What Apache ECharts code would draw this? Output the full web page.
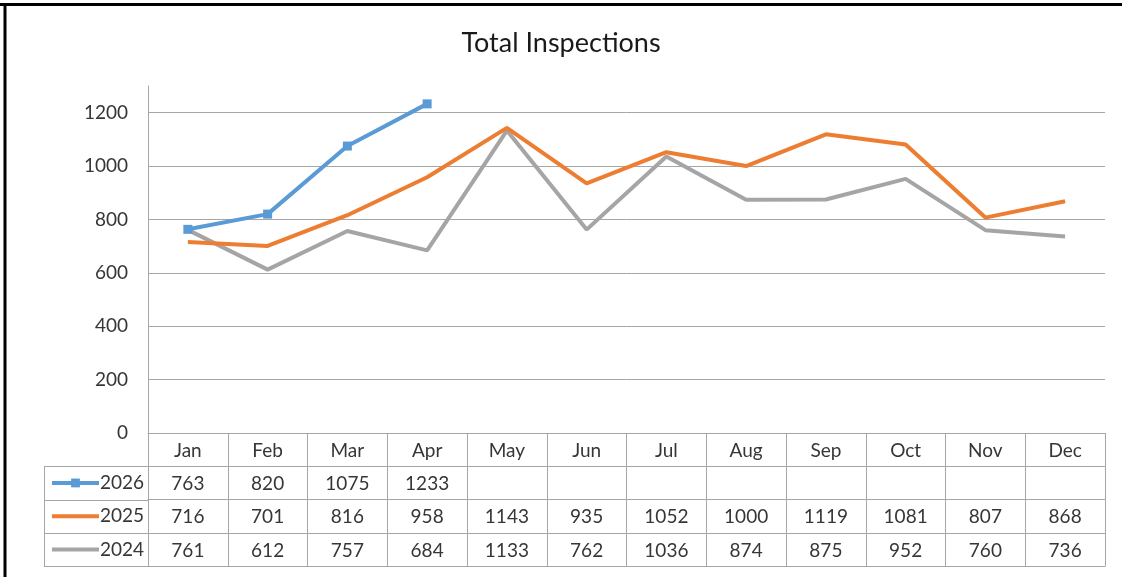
<!DOCTYPE html>
<html>
    <head>
        <meta charset="UTF-8" />
        <script src="https://cdn.jsdelivr.net/npm/echarts@6/dist/echarts.min.js"></script>
        <style>
            html, body { margin: 0; padding: 0; background: #fff; }
        </style>
    </head>
    <body>
        <div id="container" style="width: 1122px; height: 577px;"></div>
        <script>
            // chart data
            var months = ['Jan', 'Feb', 'Mar', 'Apr', 'May', 'Jun', 'Jul', 'Aug', 'Sep', 'Oct', 'Nov', 'Dec'];
            var years = ['2026', '2025', '2024'];
            var data2026 = [763, 820, 1075, 1233, null, null, null, null, null, null, null, null];
            var data2025 = [716, 701, 816, 958, 1143, 935, 1052, 1000, 1119, 1081, 807, 868];
            var data2024 = [761, 612, 757, 684, 1133, 762, 1036, 874, 875, 952, 760, 736];
            var yTicks = { min: 0, max: 1300, interval: 200 };

            var colors = { '2026': '#5B9BD5', '2025': '#ED7D31', '2024': '#A5A5A5' };
            var rows = { '2026': data2026, '2025': data2025, '2024': data2024 };

            var fontFamily = 'Lato';
            var textColor = '#363636';
            var gridColor = '#A6A6A6';
            var rowH = 33.3;

            // one extra category axis per table row, the labels are the row values
            function tableAxis(values, offset) {
                return {
                    type: 'category',
                    gridIndex: 0,
                    position: 'bottom',
                    offset: offset,
                    data: months,
                    boundaryGap: true,
                    axisLine: { show: true, lineStyle: { color: gridColor, width: 1 } },
                    axisTick: { show: !!values, interval: 0, length: rowH, lineStyle: { color: gridColor } },
                    axisLabel: {
                        show: !!values,
                        interval: 0,
                        margin: 8,
                        fontFamily: fontFamily,
                        fontSize: 19,
                        color: textColor,
                        formatter: function (v, i) {
                            var n = values ? values[i] : null;
                            return n == null ? '' : String(n);
                        }
                    },
                    splitLine: { show: false }
                };
            }

            var chart = echarts.init(document.getElementById('container'));

            var seriesList = ['2024', '2025', '2026'].map(function (y) {
                return {
                    name: y,
                    type: 'line',
                    data: rows[y],
                    xAxisIndex: 0,
                    yAxisIndex: 0,
                    symbol: y === '2026' ? 'rect' : 'none',
                    symbolSize: 9,
                    showSymbol: y === '2026',
                    lineStyle: { width: 4, color: colors[y] },
                    itemStyle: { color: colors[y] },
                    connectNulls: false,
                    animation: false
                };
            });

            var plotLeft = 148, plotRight = 1105, plotTop = 86, plotBottom = 433;
            var tableLines = [];
            for (var k = 1; k <= 4; k++) {
                var yy = Math.round(plotBottom + k * rowH) + 0.5;
                tableLines.push({
                    type: 'line',
                    shape: { x1: 44, y1: yy, x2: plotLeft, y2: yy },
                    style: { stroke: gridColor, lineWidth: 1 }
                });
            }
            tableLines.push({
                type: 'line',
                shape: { x1: 44.5, y1: Math.round(plotBottom + rowH) + 0.5, x2: 44.5, y2: Math.round(plotBottom + 4 * rowH) + 0.5 },
                style: { stroke: gridColor, lineWidth: 1 }
            });
            // outer frame (top and left edges)
            tableLines.push({
                type: 'line',
                shape: { x1: 0, y1: 4.5, x2: 1122, y2: 4.5 },
                style: { stroke: '#000', lineWidth: 3 }
            });
            tableLines.push({
                type: 'line',
                shape: { x1: 5, y1: 3, x2: 5, y2: 577 },
                style: { stroke: '#000', lineWidth: 3 }
            });

            var option = {
                backgroundColor: '#fff',
                animation: false,
                title: {
                    text: 'Total Inspections',
                    left: 'center',
                    top: 25,
                    textStyle: { fontFamily: fontFamily, fontSize: 27, fontWeight: 'normal', color: '#1a1a1a' }
                },
                legend: {
                    data: [
                        { name: '2026' },
                        { name: '2025', itemStyle: { opacity: 0 } },
                        { name: '2024', itemStyle: { opacity: 0 } }
                    ],
                    orient: 'vertical',
                    left: 50,
                    top: plotBottom + rowH * 1.5 - 10,
                    padding: 0,
                    itemWidth: 47,
                    itemHeight: 11,
                    itemGap: rowH - 20,
                    lineStyle: { width: 4 },
                    textStyle: { fontFamily: fontFamily, fontSize: 19, color: textColor, lineHeight: 20, padding: [0, 0, 0, -4] },
                    selectedMode: false
                },
                grid: {
                    left: plotLeft, top: plotTop,
                    width: plotRight - plotLeft, height: plotBottom - plotTop,
                    containLabel: false, outerBoundsMode: 'none'
                },
                xAxis: [
                    {
                        type: 'category',
                        data: months,
                        boundaryGap: true,
                        position: 'bottom',
                        axisLine: { show: true, lineStyle: { color: gridColor, width: 1 } },
                        axisTick: { show: true, interval: 0, length: rowH, lineStyle: { color: gridColor } },
                        axisLabel: { interval: 0, margin: 8, fontFamily: fontFamily, fontSize: 19, color: textColor },
                        splitLine: { show: false }
                    },
                    tableAxis(data2026, rowH),
                    tableAxis(data2025, rowH * 2),
                    tableAxis(data2024, rowH * 3),
                    tableAxis(null, rowH * 4)
                ],
                yAxis: {
                    type: 'value',
                    min: yTicks.min,
                    max: yTicks.max,
                    interval: yTicks.interval,
                    axisLine: { show: true, lineStyle: { color: gridColor, width: 1 } },
                    axisTick: { show: false },
                    axisLabel: {
                        margin: 20, fontFamily: fontFamily, fontSize: 19, color: textColor, showMaxLabel: false,
                        formatter: function (v) { return String(v); }
                    },
                    splitLine: { show: true, showMaxLine: false, lineStyle: { color: gridColor, width: 1 } }
                },
                graphic: tableLines,
                series: seriesList
            };
            chart.setOption(option);
        </script>
    </body>
</html>
